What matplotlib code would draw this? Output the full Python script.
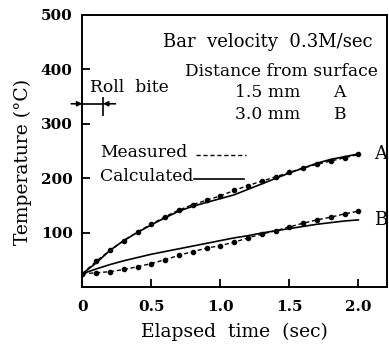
import matplotlib.pyplot as plt

# values
t = [0.0, 0.1, 0.2, 0.3, 0.4, 0.5, 0.6, 0.7, 0.8, 0.9, 1.0,
     1.1, 1.2, 1.3, 1.4, 1.5, 1.6, 1.7, 1.8, 1.9, 2.0]
a_measured = [25, 48, 68, 86, 102, 116, 130, 142, 152, 160, 168,
              178, 187, 195, 203, 211, 219, 226, 232, 238, 244]
a_calculated = [25, 45, 68, 86, 101, 115, 128, 140, 149, 156, 163,
                170, 180, 190, 200, 210, 219, 228, 235, 240, 245]
b_measured = [25, 27, 29, 33, 38, 44, 51, 59, 66, 72, 77,
              83, 91, 98, 104, 111, 118, 124, 129, 135, 140]
b_calculated = [25, 34, 42, 49, 55, 61, 66, 71, 76, 81, 86,
                91, 95, 100, 104, 108, 112, 116, 119, 122, 124]

xticks = [0, 0.5, 1.0, 1.5, 2.0]
xticklabels = ["0", "0.5", "1.0", "1.5", "2.0"]
yticks = [100, 200, 300, 400, 500]
roll_bite = (0.0, 0.15)

plt.rcParams["font.family"] = ["DejaVu Serif", "DejaVu Sans"]

fig = plt.figure(figsize=(3.89, 3.47), dpi=100)
ax = fig.add_axes([0.2116, 0.1715, 0.783, 0.7855])

ms = dict(color="black", linestyle=(0, (3, 2)), linewidth=1.0,
          marker="o", markersize=3)
cs = dict(color="black", linestyle="-", linewidth=1.2)
ax.plot(t, a_measured, **ms)
ax.plot(t, b_measured, **ms)
ax.plot(t, a_calculated, **cs)
ax.plot(t, b_calculated, **cs)

ax.set_xlim(0, 2.207)
ax.set_ylim(0, 500)
ax.set_xticks(xticks)
ax.set_xticklabels(xticklabels)
ax.set_yticks(yticks)
ax.tick_params(direction="in", length=6, width=1.3, labelsize=11)
ax.tick_params(axis="x", pad=9)
ax.tick_params(axis="y", pad=7)
for lab in ax.get_xticklabels() + ax.get_yticklabels():
    lab.set_fontweight("bold")
for sp in ax.spines.values():
    sp.set_linewidth(1.4)

ax.set_xlabel("Elapsed  time  (sec)", fontsize=13.5, labelpad=6)
ax.set_ylabel("Temperature (°C)", fontsize=13.5)
ax.yaxis.set_label_coords(-0.165, 0.46)

fs = 12.3
ax.text(2.1, 451, "Bar  velocity  0.3M/sec", ha="right", va="center", fontsize=13)
ax.text(2.144, 396, "Distance from surface", ha="right", va="center", fontsize=fs)
ax.text(1.34, 357, "1.5 mm", ha="center", va="center", fontsize=fs)
ax.text(1.34, 318, "3.0 mm", ha="center", va="center", fontsize=fs)
ax.text(1.86, 357, "A", ha="center", va="center", fontsize=fs)
ax.text(1.86, 318, "B", ha="center", va="center", fontsize=fs)
ax.text(2.16, 245, "A", ha="center", va="center", fontsize=13)
ax.text(2.16, 124, "B", ha="center", va="center", fontsize=13)

# roll bite marker
ax.text(0.055, 366, "Roll  bite", ha="left", va="center", fontsize=fs)
ax.vlines(roll_bite[1], 315, 350, color="black", linewidth=1.2)
ax.annotate("", xy=(roll_bite[0], 337), xytext=(-0.08, 337),
            arrowprops=dict(arrowstyle="-|>", color="black", lw=1.2,
                            mutation_scale=7, shrinkA=0, shrinkB=0))
ax.annotate("", xy=(roll_bite[1], 337), xytext=(0.24, 337),
            arrowprops=dict(arrowstyle="-|>", color="black", lw=1.2,
                            mutation_scale=7, shrinkA=0, shrinkB=0))
ax.plot(roll_bite, [337, 337], color="black", linewidth=1.2)

# key, drawn by hand so the labels stay left aligned
ax.text(0.058, 0.494, "Measured", transform=ax.transAxes, va="center", fontsize=fs)
ax.text(0.058, 0.409, "Calculated", transform=ax.transAxes, va="center", fontsize=fs)
ax.plot([0.373, 0.538], [0.486, 0.486], transform=ax.transAxes,
        color="black", linestyle=(0, (3, 2)), linewidth=1.0)
ax.plot([0.367, 0.531], [0.397, 0.397], transform=ax.transAxes, **cs)

fig.savefig("out.png", dpi=100)
